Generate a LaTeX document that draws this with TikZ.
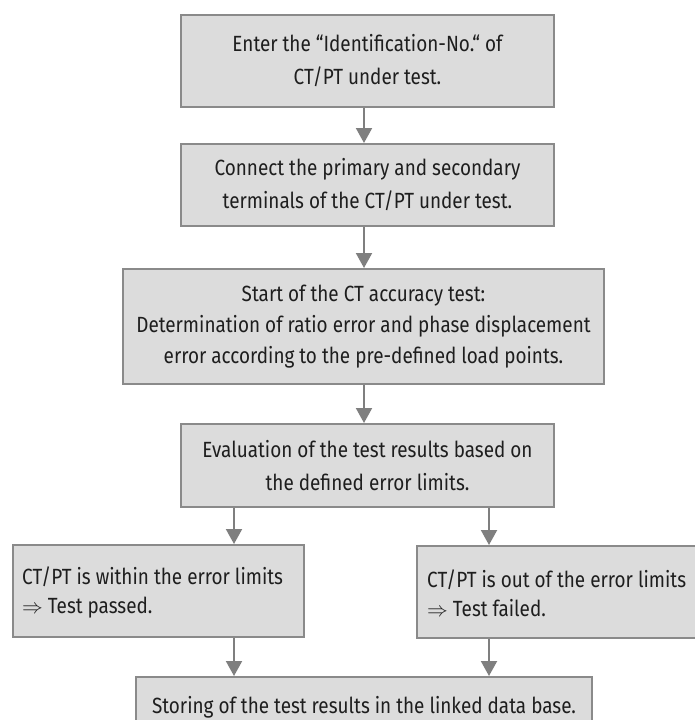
\documentclass[tikz,border=0pt]{standalone}
\usepackage{fontspec}
\setmainfont{Fira Sans}[FakeStretch=0.86]
\usetikzlibrary{arrows.meta}
\definecolor{boxfill}{HTML}{DCDCDC}
\definecolor{boxline}{HTML}{8A8A8A}
\definecolor{arrline}{HTML}{7F7F7F}
\definecolor{txt}{HTML}{1E1E1E}
\tikzset{
  flowbox/.style={draw=boxline, fill=boxfill, line width=2pt, inner sep=0pt,
    text=txt, font=\fontsize{22}{33}\selectfont, align=center},
  threeline/.style={font=\fontsize{22}{31}\selectfont},
  sidetext/.style={inner sep=0pt, text=txt, font=\fontsize{22}{29}\selectfont, align=left, anchor=west},
  flowarr/.style={draw=arrline, line width=2pt, -{Triangle[length=15pt,width=16pt]}, shorten >=0pt}
}
\begin{document}
\begin{tikzpicture}[x=1pt,y=-1pt]
\useasboundingbox (0,0) rectangle (695,720);
\clip (0,0) rectangle (695,720);
\coordinate (colM) at (364,0);
\coordinate (colL) at (234,0);
\coordinate (colR) at (489,0);
\node[flowbox, minimum width=373pt, minimum height=92pt] (b1) at (367.5,61)
  {Enter the “Identification-No.“ of\\CT/PT under test.};
\node[flowbox, minimum width=373pt, minimum height=82pt] (b2) at (367.5,185)
  {Connect the primary and secondary\\terminals of the CT/PT under test.};
\node[flowbox, threeline, minimum width=481pt, minimum height=115pt] (b3) at (363.5,326.5)
  {Start of the CT accuracy test:\\Determination of ratio error and phase displacement\\error according to the pre-defined load points.};
\node[flowbox, minimum width=373pt, minimum height=83pt] (b4) at (367.5,465.5)
  {Evaluation of the test results based on\\the defined error limits.};
\node[flowbox, minimum width=291pt, minimum height=92pt] (b5) at (158.5,591) {};
\node[sidetext] (b5t) at (22,592)
  {CT/PT is within the error limits\\$\Rightarrow$ Test passed.};
\node[flowbox, minimum width=303pt, minimum height=92pt] (b6) at (568.5,592) {};
\node[sidetext] (b6t) at (427,593)
  {CT/PT is out of the error limits\\$\Rightarrow$ Test failed.};
\node[flowbox, minimum width=456pt, minimum height=60pt] (b7) at (364,707)
  {Storing of the test results in the linked data base.};
\draw[flowarr] (b1.south -| colM) -- (b2.north -| colM);
\draw[flowarr] (b2.south -| colM) -- (b3.north -| colM);
\draw[flowarr] (b3.south -| colM) -- (b4.north -| colM);
\draw[flowarr] (b4.south -| colL) -- (b5.north -| colL);
\draw[flowarr] (b4.south -| colR) -- (b6.north -| colR);
\draw[flowarr] (b5.south -| colL) -- (b7.north -| colL);
\draw[flowarr] (b6.south -| colR) -- (b7.north -| colR);
\end{tikzpicture}
\end{document}
